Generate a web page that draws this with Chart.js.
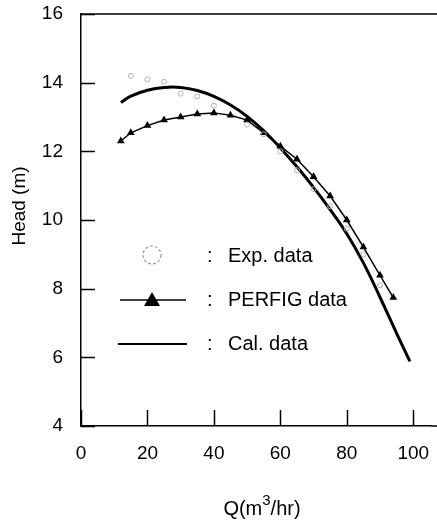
<!DOCTYPE html>
<html>
<head>
<meta charset="utf-8">
<script src="https://cdn.jsdelivr.net/npm/chart.js@4.4.1/dist/chart.umd.min.js"></script>
<style>
  html, body { margin: 0; padding: 0; background: #fff; }
  #wrap { width: 437px; height: 524px; }
</style>
</head>
<body>
<div id="wrap"><canvas id="chart" width="437" height="524"></canvas></div>
<script>
// values
const xTicks = [0, 20, 40, 60, 80, 100];
const yTicks = [4, 6, 8, 10, 12, 14, 16];

const expQ = [15, 20, 25, 30, 35, 40, 50, 55, 60, 65, 70, 75, 80, 85, 90];
const expH = [14.2, 14.1, 14.03, 13.68, 13.6, 13.33, 12.78, 12.5, 12.0, 11.45, 10.9, 10.4, 9.75, 9.0, 8.1];

const perfigQ = [12, 15, 20, 25, 30, 35, 40, 45, 50, 55, 60, 65, 70, 75, 80, 85, 90, 94];
const perfigH = [12.3, 12.54, 12.75, 12.91, 13.0, 13.09, 13.12, 13.05, 12.91, 12.54, 12.15, 11.77, 11.26, 10.7, 10.0, 9.21, 8.39, 7.74];

const calQ = [12, 15, 20, 25, 30, 35, 40, 45, 50, 55, 60, 65, 70, 75, 80, 85, 90, 95, 99];
const calH = [13.42, 13.61, 13.78, 13.86, 13.86, 13.77, 13.6, 13.35, 13.02, 12.6, 12.1, 11.55, 10.95, 10.3, 9.6, 8.75, 7.75, 6.7, 5.88];

const FONT = '"Liberation Sans", Arial, sans-serif';

const pts = (xs, ys) => xs.map((x, i) => ({ x: x, y: ys[i] }));

// inward ticks, top frame line, axis titles and the in-plot legend
const decor = {
  id: 'decor',
  afterDraw(chart) {
    const ctx = chart.ctx;
    const a = chart.chartArea;
    const xs = chart.scales.x;
    const ys = chart.scales.y;
    ctx.save();
    ctx.strokeStyle = '#000';
    ctx.lineWidth = 1.5;
    ctx.beginPath();
    xTicks.forEach((v) => {
      const px = Math.round(xs.getPixelForValue(v)) + 0.5;
      ctx.moveTo(px, a.bottom);
      ctx.lineTo(px, a.bottom - 16);
    });
    yTicks.forEach((v) => {
      const py = Math.round(ys.getPixelForValue(v)) + 0.5;
      ctx.moveTo(a.left, py);
      ctx.lineTo(a.left + 14, py);
    });
    ctx.moveTo(a.left, a.top);
    ctx.lineTo(chart.width, a.top);
    ctx.moveTo(a.right, a.bottom);
    ctx.lineTo(chart.width, a.bottom);
    ctx.stroke();

    // y title
    ctx.fillStyle = '#000';
    ctx.font = '19px ' + FONT;
    ctx.textAlign = 'center';
    ctx.textBaseline = 'middle';
    ctx.save();
    ctx.translate(20, 206);
    ctx.rotate(-Math.PI / 2);
    ctx.fillText('Head (m)', 0, 0);
    ctx.restore();

    // x title with superscript
    ctx.textAlign = 'left';
    ctx.textBaseline = 'alphabetic';
    const big = '20px ' + FONT;
    const small = '15px ' + FONT;
    ctx.font = big;
    const w1 = ctx.measureText('Q(m').width;
    const w3 = ctx.measureText('/hr)').width;
    ctx.font = small;
    const w2 = ctx.measureText('3').width;
    let tx = 262 - (w1 + w2 + w3) / 2;
    const base = 515;
    ctx.font = big;
    ctx.fillText('Q(m', tx, base);
    tx += w1;
    ctx.font = small;
    ctx.fillText('3', tx, base - 10);
    tx += w2;
    ctx.font = big;
    ctx.fillText('/hr)', tx, base);

    // legend
    const lx = a.left;
    const rows = [256, 300, 344];
    ctx.font = '20px ' + FONT;
    ctx.textBaseline = 'middle';
    ctx.fillText(':', lx + 126, rows[0]);
    ctx.fillText('Exp. data', lx + 147, rows[0]);
    ctx.fillText(':', lx + 126, rows[1]);
    ctx.fillText('PERFIG data', lx + 147, rows[1]);
    ctx.fillText(':', lx + 126, rows[2]);
    ctx.fillText('Cal. data', lx + 147, rows[2]);

    ctx.strokeStyle = '#999';
    ctx.lineWidth = 1.2;
    ctx.setLineDash([3, 2]);
    ctx.beginPath();
    ctx.arc(lx + 71, rows[0] - 1, 9, 0, Math.PI * 2);
    ctx.stroke();
    ctx.setLineDash([]);

    ctx.strokeStyle = '#000';
    ctx.lineWidth = 1.5;
    ctx.beginPath();
    ctx.moveTo(lx + 39, rows[1]);
    ctx.lineTo(lx + 105, rows[1]);
    ctx.stroke();
    ctx.beginPath();
    ctx.moveTo(lx + 71, rows[1] - 8);
    ctx.lineTo(lx + 79, rows[1] + 6);
    ctx.lineTo(lx + 63, rows[1] + 6);
    ctx.closePath();
    ctx.fill();

    ctx.lineWidth = 2;
    ctx.beginPath();
    ctx.moveTo(lx + 37, rows[2]);
    ctx.lineTo(lx + 106, rows[2]);
    ctx.stroke();
    ctx.restore();
  },
};

new Chart(document.getElementById('chart'), {
  type: 'scatter',
  data: {
    datasets: [
      {
        label: 'Exp. data',
        data: pts(expQ, expH),
        showLine: false,
        pointStyle: 'circle',
        pointRadius: 2.5,
        borderColor: '#b0b0b0',
        backgroundColor: 'rgba(0,0,0,0)',
        borderWidth: 1,
      },
      {
        label: 'PERFIG data',
        data: pts(perfigQ, perfigH),
        showLine: true,
        borderColor: '#000',
        backgroundColor: '#000',
        borderWidth: 1.5,
        pointStyle: 'triangle',
        pointRadius: 3,
        tension: 0,
      },
      {
        label: 'Cal. data',
        data: pts(calQ, calH),
        showLine: true,
        borderColor: '#000',
        borderWidth: 3,
        pointRadius: 0,
        tension: 0.4,
      },
    ],
  },
  options: {
    responsive: false,
    animation: false,
    layout: { padding: { top: 14, right: 0, left: 0, bottom: 0 } },
    plugins: { legend: { display: false }, tooltip: { enabled: false } },
    scales: {
      x: {
        type: 'linear',
        min: 0,
        max: 105.5,
        afterBuildTicks: (s) => { s.ticks = xTicks.map((v) => ({ value: v })); },
        afterFit: (s) => { s.height = 98; s.paddingLeft = 0; s.paddingRight = 0; },
        grid: { display: false, drawTicks: false },
        border: { display: true, color: '#000', width: 1.5 },
        ticks: { color: '#000', font: { family: FONT, size: 19 }, padding: 16, maxRotation: 0 },
      },
      y: {
        min: 4,
        max: 16,
        afterBuildTicks: (s) => { s.ticks = yTicks.map((v) => ({ value: v })); },
        afterFit: (s) => { s.width = 81; s.paddingTop = 0; s.paddingBottom = 0; },
        grid: { display: false, drawTicks: false },
        border: { display: true, color: '#000', width: 1.5 },
        ticks: { color: '#000', font: { family: FONT, size: 19 }, padding: 18 },
      },
    },
  },
  plugins: [decor],
});
</script>
</body>
</html>
